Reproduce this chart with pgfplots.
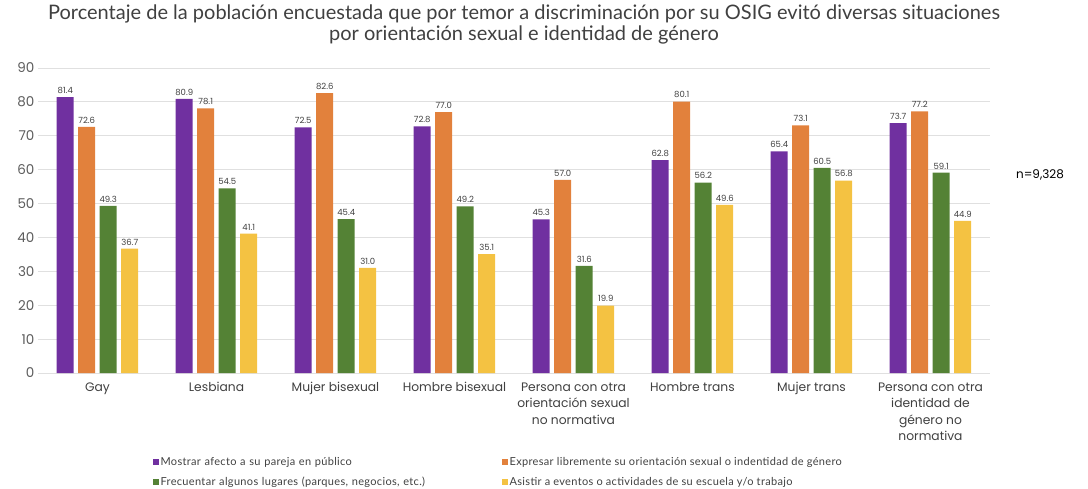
\documentclass[border=0pt]{standalone}
\usepackage{pgfplots}
\pgfplotsset{compat=1.18}
\usepackage{fontspec}
\setmainfont{Poppins}
\newfontfamily\titlefont{Lato}
\newfontfamily\legfont[LetterSpace=3]{Lato}
\definecolor{cpur}{HTML}{7030A0}
\definecolor{cora}{HTML}{E2813C}
\definecolor{cgre}{HTML}{548235}
\definecolor{cyel}{HTML}{F4C242}
\definecolor{ctxt}{HTML}{404040}
\definecolor{cgrid}{HTML}{E0E0E0}
\begin{document}
\begin{tikzpicture}
\useasboundingbox (-38pt,-115pt) rectangle (1050pt,373pt);
\begin{axis}[
  at={(0pt,0pt)}, anchor=south west,
  scale only axis, width=952pt, height=305pt,
  ybar=4.5pt, bar width=17pt,
  xmin=-0.5, xmax=7.5, ymin=0, ymax=90,
  ytick={0,10,...,90},
  xtick={0,...,7},
  xticklabels={Gay,Lesbiana,Mujer bisexual,Hombre bisexual,{Persona con otra\\orientación sexual\\no normativa},Hombre trans,Mujer trans,{Persona con otra\\identidad de\\género no\\normativa}},
  xticklabel style={align=center, font=\fontsize{12.3}{16.5}\selectfont, text=ctxt, yshift=-6pt},
  yticklabel style={font=\fontsize{13.5}{15}\selectfont, text=ctxt!85},
  /pgf/number format/assume math mode=true,
  major tick length=0pt,
  axis line style={draw=none},
  ymajorgrids, grid style={cgrid, line width=0.8pt},
  nodes near coords,
  nodes near coords style={font=\fontsize{8.5}{10}\selectfont, text=ctxt, /pgf/number format/.cd, fixed, fixed zerofill, precision=1, assume math mode=true},
  legend columns=2,
  legend style={at={(0.117,-0.262)}, anchor=north west, draw=none, fill=none,
    font=\legfont\fontsize{11}{13}\selectfont, text=ctxt,
    /tikz/column 2/.append style={text width=339pt},
    row sep=6pt, cells={anchor=west}},
  legend image code/.code={\fill[#1,draw=none] (0pt,-3pt) rectangle (6pt,3pt);},
]
\addplot[fill=cpur, draw=none] coordinates {(0,81.4) (1,80.9) (2,72.5) (3,72.8) (4,45.3) (5,62.8) (6,65.4) (7,73.7)};
\addplot[fill=cora, draw=none] coordinates {(0,72.6) (1,78.1) (2,82.6) (3,77.0) (4,57.0) (5,80.1) (6,73.1) (7,77.2)};
\addplot[fill=cgre, draw=none] coordinates {(0,49.3) (1,54.5) (2,45.4) (3,49.2) (4,31.6) (5,56.2) (6,60.5) (7,59.1)};
\addplot[fill=cyel, draw=none] coordinates {(0,36.7) (1,41.1) (2,31.0) (3,35.1) (4,19.9) (5,49.6) (6,56.8) (7,44.9)};
\legend{Mostrar afecto a su pareja en público,Expresar libremente su orientación sexual o indentidad de género,Frecuentar algunos lugares (parques{,} negocios{,} etc.),Asistir a eventos o actividades de su escuela y/o trabajo}
\end{axis}
\node[font=\titlefont\fontsize{20}{21}\selectfont, text=ctxt, align=center] at (486pt,349pt) {Porcentaje de la población encuestada que por temor a discriminación por su OSIG evitó diversas situaciones\\por orientación sexual e identidad de género};
\node[font=\fontsize{12}{14}\selectfont, text=black] at (1002pt,198pt) {n=9,328};
\end{tikzpicture}
\end{document}
